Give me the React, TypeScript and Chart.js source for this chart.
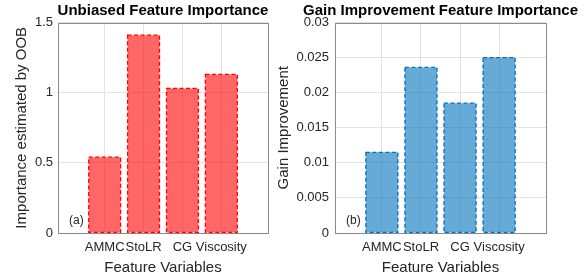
import React, { useEffect, useRef } from 'react';
import { Chart, registerables } from 'chart.js';

Chart.register(...registerables);

const categories = ['AMMC', 'StoLR', 'CG', 'Viscosity'];
const categoryPositions = [1, 2, 3, 4];
const oobImportance = [0.54, 1.41, 1.03, 1.13];
const gainImportance = [0.0115, 0.0236, 0.0185, 0.025];
const oobTicks = [0, 0.5, 1, 1.5];
const oobTickLabels = ['0', '0.5', '1', '1.5'];
const gainTicks = [0, 0.005, 0.01, 0.015, 0.02, 0.025, 0.03];
const gainTickLabels = ['0', '0.005', '0.01', '0.015', '0.02', '0.025', '0.03'];

const FONT = '"Liberation Sans", Arial, Helvetica, sans-serif';

const decor = {
  id: 'decor',
  afterDatasetsDraw(chart: any, _args: any, opts: any) {
    const { ctx, chartArea: a } = chart;
    const meta = chart.getDatasetMeta(0);
    ctx.save();
    ctx.strokeStyle = opts.edge;
    ctx.lineWidth = 1.3;
    ctx.setLineDash([4, 2.5]);
    meta.data.forEach((bar: any) => {
      const { x, y, base, width } = bar.getProps(['x', 'y', 'base', 'width'], true);
      ctx.strokeRect(x - width / 2, y, width, base - y);
    });
    ctx.setLineDash([]);
    ctx.strokeStyle = '#8a8a8a';
    ctx.lineWidth = 1;
    const l = Math.round(a.left), t = Math.round(a.top), r = Math.round(a.right), b = Math.round(a.bottom);
    ctx.strokeRect(l + 0.5, t + 0.5, r - l, b - t);
    ctx.fillStyle = '#262626';
    ctx.font = `12px ${FONT}`;
    ctx.textBaseline = 'middle';
    ctx.textAlign = 'left';
    ctx.fillText(opts.tag, a.left + 11, a.bottom - 12);
    ctx.fillStyle = '#000';
    ctx.font = `bold 15px ${FONT}`;
    ctx.textAlign = 'center';
    ctx.fillText(opts.title, (a.left + a.right) / 2, 11);
    ctx.restore();
  },
};

interface PanelProps {
  values: number[];
  yTicks: number[];
  yTickLabels: string[];
  yMax: number;
  yTitle: string;
  title: string;
  tag: string;
  fill: string;
  edge: string;
  width: number;
  yWidth: number;
  padRight: number;
  yTitlePad: number;
  tickPad: number;
}

function Panel(p: PanelProps) {
  const ref = useRef<HTMLCanvasElement | null>(null);
  useEffect(() => {
    if (!ref.current) return;
    const chart = new Chart(ref.current, {
      type: 'bar',
      data: {
        datasets: [
          {
            data: categoryPositions.map((x, i) => ({ x, y: p.values[i] })),
            backgroundColor: p.fill,
            borderWidth: 0,
            barPercentage: 0.82,
            categoryPercentage: 1,
          },
        ],
      },
      plugins: [decor],
      options: {
        responsive: false,
        animation: false,
        devicePixelRatio: 1,
        layout: { padding: { left: 0, right: p.padRight, top: 22.5, bottom: 0 } },
        plugins: {
          legend: { display: false },
          tooltip: { enabled: false },
          decor: { title: p.title, tag: p.tag, edge: p.edge },
        } as any,
        scales: {
          x: {
            type: 'linear',
            min: -0.2,
            max: 5.2,
            offset: false,
            afterBuildTicks: (s: any) => {
              s.ticks = categoryPositions.map((v) => ({ value: v }));
            },
            afterFit: (s: any) => {
              s.height = 47;
            },
            ticks: {
              autoSkip: false,
              maxRotation: 0,
              minRotation: 0,
              padding: 7,
              color: '#262626',
              font: { family: FONT, size: 13 },
              callback: (_v: any, i: number) => categories[i],
            },
            grid: { color: '#e3e3e3', drawTicks: false, offset: false },
            border: { display: false },
            title: {
              display: true,
              text: 'Feature Variables',
              color: '#262626',
              font: { family: FONT, size: 15 },
              padding: { top: 0, bottom: 3 },
            },
          },
          y: {
            type: 'linear',
            min: 0,
            max: p.yMax,
            afterBuildTicks: (s: any) => {
              s.ticks = p.yTicks.map((v) => ({ value: v }));
            },
            afterFit: (s: any) => {
              s.width = p.yWidth;
            },
            ticks: {
              padding: p.tickPad,
              color: '#262626',
              font: { family: FONT, size: 13 },
              callback: (_v: any, i: number) => p.yTickLabels[i],
            },
            grid: { color: '#e3e3e3', drawTicks: false },
            border: { display: false },
            title: {
              display: true,
              text: p.yTitle,
              color: '#262626',
              font: { family: FONT, size: 15 },
              padding: { top: p.yTitlePad, bottom: 0 },
            },
          },
        },
      } as any,
    });
    return () => chart.destroy();
  }, []);
  return <canvas ref={ref} width={p.width} height={280} style={{ display: 'block' }} />;
}

export default function App() {
  return (
    <div
      style={{
        position: 'fixed',
        left: 0,
        top: 0,
        width: 587,
        height: 280,
        background: '#fff',
        display: 'flex',
      }}
    >
      <Panel
        values={oobImportance}
        yTicks={oobTicks}
        yTickLabels={oobTickLabels}
        yMax={1.5}
        yTitle="Importance estimated by OOB"
        title="Unbiased Feature Importance"
        tag="(a)"
        fill="rgba(255, 0, 0, 0.6)"
        edge="#ff0000"
        width={270}
        yWidth={58}
        padRight={2}
        yTitlePad={13}
        tickPad={5}
      />
      <Panel
        values={gainImportance}
        yTicks={gainTicks}
        yTickLabels={gainTickLabels}
        yMax={0.03}
        yTitle="Gain Improvement"
        title="Gain Improvement Feature Importance"
        tag="(b)"
        fill="rgba(0, 114, 189, 0.6)"
        edge="#0072bd"
        width={317}
        yWidth={65}
        padRight={41}
        yTitlePad={5}
        tickPad={6}
      />
    </div>
  );
}
